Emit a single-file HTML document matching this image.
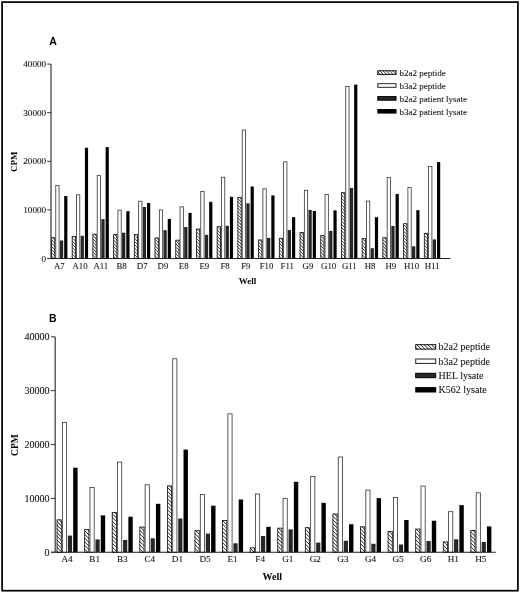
<!DOCTYPE html>
<html><head><meta charset="utf-8"><style>
html,body{margin:0;padding:0;background:#fff;}
body{width:520px;height:593px;overflow:hidden;}
svg{display:block;will-change:transform;}
.t{font-family:"Liberation Serif",serif;fill:#111;stroke:#111;stroke-width:0.08px;}
.b{font-family:"Liberation Serif",serif;font-weight:bold;fill:#000;}
.p{font-family:"Liberation Sans",sans-serif;font-weight:bold;fill:#000;}
</style></head><body>
<svg width="520" height="593" viewBox="0 0 520 593">
<rect x="0" y="0" width="520" height="593" fill="#fff"/>
<rect x="2.1" y="2.1" width="515.8" height="588.6" fill="none" stroke="#000" stroke-width="1.7"/>
<rect x="51.08" y="237.31" width="4.1" height="21.19" fill="#fff"/>
<rect x="55.78" y="185.61" width="3.3" height="72.89" fill="#fff" stroke="#333" stroke-width="0.8"/>
<rect x="59.88" y="240.52" width="3.3" height="17.98" fill="#262626"/>
<rect x="64.18" y="196.1" width="3.2" height="62.4" fill="#000"/>
<rect x="71.79" y="236.19" width="4.1" height="22.31" fill="#fff"/>
<rect x="76.49" y="194.8" width="3.3" height="63.7" fill="#fff" stroke="#333" stroke-width="0.8"/>
<rect x="80.59" y="235.8" width="3.3" height="22.7" fill="#262626"/>
<rect x="84.89" y="147.79" width="3.2" height="110.71" fill="#000"/>
<rect x="92.51" y="233.76" width="4.1" height="24.74" fill="#fff"/>
<rect x="97.21" y="175.6" width="3.3" height="82.9" fill="#fff" stroke="#333" stroke-width="0.8"/>
<rect x="101.31" y="219.13" width="3.3" height="39.37" fill="#262626"/>
<rect x="105.61" y="147.11" width="3.2" height="111.39" fill="#000"/>
<rect x="113.22" y="234.2" width="4.1" height="24.3" fill="#fff"/>
<rect x="117.92" y="210.11" width="3.3" height="48.39" fill="#fff" stroke="#333" stroke-width="0.8"/>
<rect x="122.02" y="232.69" width="3.3" height="25.81" fill="#262626"/>
<rect x="126.32" y="211.12" width="3.2" height="47.38" fill="#000"/>
<rect x="133.93" y="234.2" width="4.1" height="24.3" fill="#fff"/>
<rect x="138.63" y="201.21" width="3.3" height="57.29" fill="#fff" stroke="#333" stroke-width="0.8"/>
<rect x="142.73" y="206.98" width="3.3" height="51.52" fill="#262626"/>
<rect x="147.03" y="203" width="3.2" height="55.5" fill="#000"/>
<rect x="154.64" y="237.6" width="4.1" height="20.9" fill="#fff"/>
<rect x="159.34" y="209.91" width="3.3" height="48.59" fill="#fff" stroke="#333" stroke-width="0.8"/>
<rect x="163.44" y="230.21" width="3.3" height="28.29" fill="#262626"/>
<rect x="167.74" y="218.89" width="3.2" height="39.61" fill="#000"/>
<rect x="175.36" y="239.79" width="4.1" height="18.71" fill="#fff"/>
<rect x="180.06" y="206.8" width="3.3" height="51.7" fill="#fff" stroke="#333" stroke-width="0.8"/>
<rect x="184.16" y="227.1" width="3.3" height="31.4" fill="#262626"/>
<rect x="188.46" y="212.91" width="3.2" height="45.59" fill="#000"/>
<rect x="196.07" y="228.71" width="4.1" height="29.79" fill="#fff"/>
<rect x="200.77" y="191.59" width="3.3" height="66.91" fill="#fff" stroke="#333" stroke-width="0.8"/>
<rect x="204.87" y="234.88" width="3.3" height="23.62" fill="#262626"/>
<rect x="209.17" y="201.88" width="3.2" height="56.62" fill="#000"/>
<rect x="216.78" y="226.33" width="4.1" height="32.17" fill="#fff"/>
<rect x="221.48" y="177.25" width="3.3" height="81.25" fill="#fff" stroke="#333" stroke-width="0.8"/>
<rect x="225.58" y="225.84" width="3.3" height="32.66" fill="#262626"/>
<rect x="229.88" y="196.78" width="3.2" height="61.72" fill="#000"/>
<rect x="237.5" y="197.02" width="4.1" height="61.48" fill="#fff"/>
<rect x="242.2" y="130.01" width="3.3" height="128.49" fill="#fff" stroke="#333" stroke-width="0.8"/>
<rect x="246.3" y="203.29" width="3.3" height="55.21" fill="#262626"/>
<rect x="250.6" y="186.52" width="3.2" height="71.98" fill="#000"/>
<rect x="258.21" y="239.59" width="4.1" height="18.91" fill="#fff"/>
<rect x="262.91" y="188.82" width="3.3" height="69.68" fill="#fff" stroke="#333" stroke-width="0.8"/>
<rect x="267.01" y="237.89" width="3.3" height="20.61" fill="#262626"/>
<rect x="271.31" y="195.42" width="3.2" height="63.08" fill="#000"/>
<rect x="278.92" y="237.89" width="4.1" height="20.61" fill="#fff"/>
<rect x="283.62" y="161.8" width="3.3" height="96.7" fill="#fff" stroke="#333" stroke-width="0.8"/>
<rect x="287.72" y="230.02" width="3.3" height="28.48" fill="#262626"/>
<rect x="292.02" y="217.14" width="3.2" height="41.36" fill="#000"/>
<rect x="299.64" y="232.06" width="4.1" height="26.44" fill="#fff"/>
<rect x="304.34" y="190.28" width="3.3" height="68.22" fill="#fff" stroke="#333" stroke-width="0.8"/>
<rect x="308.44" y="209.9" width="3.3" height="48.6" fill="#262626"/>
<rect x="312.74" y="211.02" width="3.2" height="47.48" fill="#000"/>
<rect x="320.35" y="235.22" width="4.1" height="23.28" fill="#fff"/>
<rect x="325.05" y="194.51" width="3.3" height="63.99" fill="#fff" stroke="#333" stroke-width="0.8"/>
<rect x="329.15" y="230.9" width="3.3" height="27.6" fill="#262626"/>
<rect x="333.45" y="210.39" width="3.2" height="48.11" fill="#000"/>
<rect x="341.06" y="192.31" width="4.1" height="66.19" fill="#fff"/>
<rect x="345.76" y="86.52" width="3.3" height="171.98" fill="#fff" stroke="#333" stroke-width="0.8"/>
<rect x="349.86" y="187.98" width="3.3" height="70.52" fill="#262626"/>
<rect x="354.16" y="84.61" width="3.2" height="173.89" fill="#000"/>
<rect x="361.77" y="238.23" width="4.1" height="20.27" fill="#fff"/>
<rect x="366.47" y="201.11" width="3.3" height="57.39" fill="#fff" stroke="#333" stroke-width="0.8"/>
<rect x="370.57" y="248.2" width="3.3" height="10.3" fill="#262626"/>
<rect x="374.88" y="217.19" width="3.2" height="41.31" fill="#000"/>
<rect x="382.49" y="237.36" width="4.1" height="21.14" fill="#fff"/>
<rect x="387.19" y="177.35" width="3.3" height="81.15" fill="#fff" stroke="#333" stroke-width="0.8"/>
<rect x="391.29" y="225.99" width="3.3" height="32.51" fill="#262626"/>
<rect x="395.59" y="193.91" width="3.2" height="64.59" fill="#000"/>
<rect x="403.2" y="223.31" width="4.1" height="35.19" fill="#fff"/>
<rect x="407.9" y="187.6" width="3.3" height="70.9" fill="#fff" stroke="#333" stroke-width="0.8"/>
<rect x="412" y="246.3" width="3.3" height="12.2" fill="#262626"/>
<rect x="416.3" y="210.19" width="3.2" height="48.31" fill="#000"/>
<rect x="423.91" y="232.89" width="4.1" height="25.61" fill="#fff"/>
<rect x="428.61" y="166.51" width="3.3" height="91.99" fill="#fff" stroke="#333" stroke-width="0.8"/>
<rect x="432.71" y="239.4" width="3.3" height="19.1" fill="#262626"/>
<rect x="437.01" y="162.08" width="3.2" height="96.42" fill="#000"/>
<line x1="51" y1="64.1" x2="51" y2="258.5" stroke="#444" stroke-width="1.3"/>
<line x1="47.2" y1="258.5" x2="450.5" y2="258.5" stroke="#222" stroke-width="1.1"/>
<line x1="47.2" y1="258.5" x2="51" y2="258.5" stroke="#333" stroke-width="1"/>
<text x="46.2" y="261.5" text-anchor="end" class="t" style="font-size:9.2px">0</text>
<line x1="47.2" y1="209.9" x2="51" y2="209.9" stroke="#333" stroke-width="1"/>
<text x="46.2" y="212.9" text-anchor="end" class="t" style="font-size:9.2px">10000</text>
<line x1="47.2" y1="161.3" x2="51" y2="161.3" stroke="#333" stroke-width="1"/>
<text x="46.2" y="164.3" text-anchor="end" class="t" style="font-size:9.2px">20000</text>
<line x1="47.2" y1="112.7" x2="51" y2="112.7" stroke="#333" stroke-width="1"/>
<text x="46.2" y="115.7" text-anchor="end" class="t" style="font-size:9.2px">30000</text>
<line x1="47.2" y1="64.1" x2="51" y2="64.1" stroke="#333" stroke-width="1"/>
<text x="46.2" y="67.1" text-anchor="end" class="t" style="font-size:9.2px">40000</text>
<text x="59.38" y="269.1" text-anchor="middle" class="t" style="font-size:8.8px">A7</text>
<text x="80.09" y="269.1" text-anchor="middle" class="t" style="font-size:8.8px">A10</text>
<text x="100.81" y="269.1" text-anchor="middle" class="t" style="font-size:8.8px">A11</text>
<text x="121.52" y="269.1" text-anchor="middle" class="t" style="font-size:8.8px">B8</text>
<text x="142.23" y="269.1" text-anchor="middle" class="t" style="font-size:8.8px">D7</text>
<text x="162.94" y="269.1" text-anchor="middle" class="t" style="font-size:8.8px">D9</text>
<text x="183.66" y="269.1" text-anchor="middle" class="t" style="font-size:8.8px">E8</text>
<text x="204.37" y="269.1" text-anchor="middle" class="t" style="font-size:8.8px">E9</text>
<text x="225.08" y="269.1" text-anchor="middle" class="t" style="font-size:8.8px">F8</text>
<text x="245.8" y="269.1" text-anchor="middle" class="t" style="font-size:8.8px">F9</text>
<text x="266.51" y="269.1" text-anchor="middle" class="t" style="font-size:8.8px">F10</text>
<text x="287.22" y="269.1" text-anchor="middle" class="t" style="font-size:8.8px">F11</text>
<text x="307.94" y="269.1" text-anchor="middle" class="t" style="font-size:8.8px">G9</text>
<text x="328.65" y="269.1" text-anchor="middle" class="t" style="font-size:8.8px">G10</text>
<text x="349.36" y="269.1" text-anchor="middle" class="t" style="font-size:8.8px">G11</text>
<text x="370.07" y="269.1" text-anchor="middle" class="t" style="font-size:8.8px">H8</text>
<text x="390.79" y="269.1" text-anchor="middle" class="t" style="font-size:8.8px">H9</text>
<text x="411.5" y="269.1" text-anchor="middle" class="t" style="font-size:8.8px">H10</text>
<text x="432.21" y="269.1" text-anchor="middle" class="t" style="font-size:8.8px">H11</text>
<text x="247.6" y="283.6" text-anchor="middle" class="b" style="font-size:9px">Well</text>
<text transform="translate(16.6 161.8) rotate(-90)" text-anchor="middle" class="b" style="font-size:9px">CPM</text>
<text x="49.2" y="45.3" class="p" style="font-size:10.5px">A</text>
<rect x="377.3" y="70.3" width="19.2" height="4.6" fill="#fff"/>
<text x="399.6" y="75.9" class="t" style="font-size:9px">b2a2 peptide</text>
<rect x="377.8" y="83.7" width="18.2" height="3.6" fill="#fff" stroke="#222" stroke-width="1"/>
<text x="399.6" y="88.8" class="t" style="font-size:9px">b3a2 peptide</text>
<rect x="377.8" y="96.6" width="18.2" height="3.6" fill="#2a2a2a" stroke="#000" stroke-width="1"/>
<text x="399.6" y="101.7" class="t" style="font-size:9px">b2a2 patient lysate</text>
<rect x="377.3" y="109" width="19.2" height="4.6" fill="#000"/>
<text x="399.6" y="114.6" class="t" style="font-size:9px">b3a2 patient lysate</text>
<clipPath id="chA"><rect x="51.08" y="237.31" width="4.1" height="21.19"/><rect x="71.79" y="236.19" width="4.1" height="22.31"/><rect x="92.51" y="233.76" width="4.1" height="24.74"/><rect x="113.22" y="234.2" width="4.1" height="24.3"/><rect x="133.93" y="234.2" width="4.1" height="24.3"/><rect x="154.64" y="237.6" width="4.1" height="20.9"/><rect x="175.36" y="239.79" width="4.1" height="18.71"/><rect x="196.07" y="228.71" width="4.1" height="29.79"/><rect x="216.78" y="226.33" width="4.1" height="32.17"/><rect x="237.5" y="197.02" width="4.1" height="61.48"/><rect x="258.21" y="239.59" width="4.1" height="18.91"/><rect x="278.92" y="237.89" width="4.1" height="20.61"/><rect x="299.64" y="232.06" width="4.1" height="26.44"/><rect x="320.35" y="235.22" width="4.1" height="23.28"/><rect x="341.06" y="192.31" width="4.1" height="66.19"/><rect x="361.77" y="238.23" width="4.1" height="20.27"/><rect x="382.49" y="237.36" width="4.1" height="21.14"/><rect x="403.2" y="223.31" width="4.1" height="35.19"/><rect x="423.91" y="232.89" width="4.1" height="25.61"/><rect x="377.3" y="70.3" width="19.2" height="4.6"/></clipPath>
<g clip-path="url(#chA)"><path d="M50.08 -310.88L429.01 68.05M50.08 -307.63L429.01 71.3M50.08 -304.38L429.01 74.55M50.08 -301.13L429.01 77.8M50.08 -297.88L429.01 81.05M50.08 -294.63L429.01 84.3M50.08 -291.38L429.01 87.55M50.08 -288.13L429.01 90.8M50.08 -284.88L429.01 94.05M50.08 -281.63L429.01 97.3M50.08 -278.38L429.01 100.55M50.08 -275.13L429.01 103.8M50.08 -271.88L429.01 107.05M50.08 -268.63L429.01 110.3M50.08 -265.38L429.01 113.55M50.08 -262.13L429.01 116.8M50.08 -258.88L429.01 120.05M50.08 -255.63L429.01 123.3M50.08 -252.38L429.01 126.55M50.08 -249.13L429.01 129.8M50.08 -245.88L429.01 133.05M50.08 -242.63L429.01 136.3M50.08 -239.38L429.01 139.55M50.08 -236.13L429.01 142.8M50.08 -232.88L429.01 146.05M50.08 -229.63L429.01 149.3M50.08 -226.38L429.01 152.55M50.08 -223.13L429.01 155.8M50.08 -219.88L429.01 159.05M50.08 -216.63L429.01 162.3M50.08 -213.38L429.01 165.55M50.08 -210.13L429.01 168.8M50.08 -206.88L429.01 172.05M50.08 -203.63L429.01 175.3M50.08 -200.38L429.01 178.55M50.08 -197.13L429.01 181.8M50.08 -193.88L429.01 185.05M50.08 -190.63L429.01 188.3M50.08 -187.38L429.01 191.55M50.08 -184.13L429.01 194.8M50.08 -180.88L429.01 198.05M50.08 -177.63L429.01 201.3M50.08 -174.38L429.01 204.55M50.08 -171.13L429.01 207.8M50.08 -167.88L429.01 211.05M50.08 -164.63L429.01 214.3M50.08 -161.38L429.01 217.55M50.08 -158.13L429.01 220.8M50.08 -154.88L429.01 224.05M50.08 -151.63L429.01 227.3M50.08 -148.38L429.01 230.55M50.08 -145.13L429.01 233.8M50.08 -141.88L429.01 237.05M50.08 -138.63L429.01 240.3M50.08 -135.38L429.01 243.55M50.08 -132.13L429.01 246.8M50.08 -128.88L429.01 250.05M50.08 -125.63L429.01 253.3M50.08 -122.38L429.01 256.55M50.08 -119.13L429.01 259.8M50.08 -115.88L429.01 263.05M50.08 -112.63L429.01 266.3M50.08 -109.38L429.01 269.55M50.08 -106.13L429.01 272.8M50.08 -102.88L429.01 276.05M50.08 -99.63L429.01 279.3M50.08 -96.38L429.01 282.55M50.08 -93.13L429.01 285.8M50.08 -89.88L429.01 289.05M50.08 -86.63L429.01 292.3M50.08 -83.38L429.01 295.55M50.08 -80.13L429.01 298.8M50.08 -76.88L429.01 302.05M50.08 -73.63L429.01 305.3M50.08 -70.38L429.01 308.55M50.08 -67.13L429.01 311.8M50.08 -63.88L429.01 315.05M50.08 -60.63L429.01 318.3M50.08 -57.38L429.01 321.55M50.08 -54.13L429.01 324.8M50.08 -50.88L429.01 328.05M50.08 -47.63L429.01 331.3M50.08 -44.38L429.01 334.55M50.08 -41.13L429.01 337.8M50.08 -37.88L429.01 341.05M50.08 -34.63L429.01 344.3M50.08 -31.38L429.01 347.55M50.08 -28.13L429.01 350.8M50.08 -24.88L429.01 354.05M50.08 -21.63L429.01 357.3M50.08 -18.38L429.01 360.55M50.08 -15.13L429.01 363.8M50.08 -11.88L429.01 367.05M50.08 -8.63L429.01 370.3M50.08 -5.38L429.01 373.55M50.08 -2.13L429.01 376.8M50.08 1.12L429.01 380.05M50.08 4.37L429.01 383.3M50.08 7.62L429.01 386.55M50.08 10.87L429.01 389.8M50.08 14.12L429.01 393.05M50.08 17.37L429.01 396.3M50.08 20.62L429.01 399.55M50.08 23.87L429.01 402.8M50.08 27.12L429.01 406.05M50.08 30.37L429.01 409.3M50.08 33.62L429.01 412.55M50.08 36.87L429.01 415.8M50.08 40.12L429.01 419.05M50.08 43.37L429.01 422.3M50.08 46.62L429.01 425.55M50.08 49.87L429.01 428.8M50.08 53.12L429.01 432.05M50.08 56.37L429.01 435.3M50.08 59.62L429.01 438.55M50.08 62.87L429.01 441.8M50.08 66.12L429.01 445.05M50.08 69.37L429.01 448.3M50.08 72.62L429.01 451.55M50.08 75.87L429.01 454.8M50.08 79.12L429.01 458.05M50.08 82.37L429.01 461.3M50.08 85.62L429.01 464.55M50.08 88.87L429.01 467.8M50.08 92.12L429.01 471.05M50.08 95.37L429.01 474.3M50.08 98.62L429.01 477.55M50.08 101.87L429.01 480.8M50.08 105.12L429.01 484.05M50.08 108.37L429.01 487.3M50.08 111.62L429.01 490.55M50.08 114.87L429.01 493.8M50.08 118.12L429.01 497.05M50.08 121.37L429.01 500.3M50.08 124.62L429.01 503.55M50.08 127.87L429.01 506.8M50.08 131.12L429.01 510.05M50.08 134.37L429.01 513.3M50.08 137.62L429.01 516.55M50.08 140.87L429.01 519.8M50.08 144.12L429.01 523.05M50.08 147.37L429.01 526.3M50.08 150.62L429.01 529.55M50.08 153.87L429.01 532.8M50.08 157.12L429.01 536.05M50.08 160.37L429.01 539.3M50.08 163.62L429.01 542.55M50.08 166.87L429.01 545.8M50.08 170.12L429.01 549.05M50.08 173.37L429.01 552.3M50.08 176.62L429.01 555.55M50.08 179.87L429.01 558.8M50.08 183.12L429.01 562.05M50.08 186.37L429.01 565.3M50.08 189.62L429.01 568.55M50.08 192.87L429.01 571.8M50.08 196.12L429.01 575.05M50.08 199.37L429.01 578.3M50.08 202.62L429.01 581.55M50.08 205.87L429.01 584.8M50.08 209.12L429.01 588.05M50.08 212.37L429.01 591.3M50.08 215.62L429.01 594.55M50.08 218.87L429.01 597.8M50.08 222.12L429.01 601.05M50.08 225.37L429.01 604.3M50.08 228.62L429.01 607.55M50.08 231.87L429.01 610.8M50.08 235.12L429.01 614.05M50.08 238.37L429.01 617.3M50.08 241.62L429.01 620.55M50.08 244.87L429.01 623.8M50.08 248.12L429.01 627.05M50.08 251.37L429.01 630.3M50.08 254.62L429.01 633.55M50.08 257.87L429.01 636.8" stroke="#222" stroke-width="0.9" fill="none"/></g>
<rect x="51.48" y="237.71" width="3.3" height="20.79" fill="none" stroke="#111" stroke-width="0.8"/>
<rect x="72.19" y="236.59" width="3.3" height="21.91" fill="none" stroke="#111" stroke-width="0.8"/>
<rect x="92.91" y="234.16" width="3.3" height="24.34" fill="none" stroke="#111" stroke-width="0.8"/>
<rect x="113.62" y="234.6" width="3.3" height="23.9" fill="none" stroke="#111" stroke-width="0.8"/>
<rect x="134.33" y="234.6" width="3.3" height="23.9" fill="none" stroke="#111" stroke-width="0.8"/>
<rect x="155.04" y="238" width="3.3" height="20.5" fill="none" stroke="#111" stroke-width="0.8"/>
<rect x="175.76" y="240.19" width="3.3" height="18.31" fill="none" stroke="#111" stroke-width="0.8"/>
<rect x="196.47" y="229.11" width="3.3" height="29.39" fill="none" stroke="#111" stroke-width="0.8"/>
<rect x="217.18" y="226.73" width="3.3" height="31.77" fill="none" stroke="#111" stroke-width="0.8"/>
<rect x="237.9" y="197.42" width="3.3" height="61.08" fill="none" stroke="#111" stroke-width="0.8"/>
<rect x="258.61" y="239.99" width="3.3" height="18.51" fill="none" stroke="#111" stroke-width="0.8"/>
<rect x="279.32" y="238.29" width="3.3" height="20.21" fill="none" stroke="#111" stroke-width="0.8"/>
<rect x="300.04" y="232.46" width="3.3" height="26.04" fill="none" stroke="#111" stroke-width="0.8"/>
<rect x="320.75" y="235.62" width="3.3" height="22.88" fill="none" stroke="#111" stroke-width="0.8"/>
<rect x="341.46" y="192.71" width="3.3" height="65.79" fill="none" stroke="#111" stroke-width="0.8"/>
<rect x="362.17" y="238.63" width="3.3" height="19.87" fill="none" stroke="#111" stroke-width="0.8"/>
<rect x="382.89" y="237.76" width="3.3" height="20.74" fill="none" stroke="#111" stroke-width="0.8"/>
<rect x="403.6" y="223.71" width="3.3" height="34.79" fill="none" stroke="#111" stroke-width="0.8"/>
<rect x="424.31" y="233.29" width="3.3" height="25.21" fill="none" stroke="#111" stroke-width="0.8"/>
<rect x="377.8" y="70.8" width="18.2" height="3.6" fill="none" stroke="#111" stroke-width="1"/>
<rect x="56.68" y="519.44" width="5" height="32.86" fill="#fff"/>
<rect x="62.38" y="422.59" width="4.2" height="129.71" fill="#fff" stroke="#333" stroke-width="0.8"/>
<rect x="67.88" y="535.6" width="4.2" height="16.7" fill="#262626"/>
<rect x="73.18" y="467.72" width="4.4" height="84.58" fill="#000"/>
<rect x="84.27" y="529.13" width="5" height="23.17" fill="#fff"/>
<rect x="89.97" y="487.51" width="4.2" height="64.79" fill="#fff" stroke="#333" stroke-width="0.8"/>
<rect x="95.47" y="539.42" width="4.2" height="12.88" fill="#262626"/>
<rect x="100.77" y="515.4" width="4.4" height="36.9" fill="#000"/>
<rect x="111.85" y="512.11" width="5" height="40.19" fill="#fff"/>
<rect x="117.55" y="462.14" width="4.2" height="90.16" fill="#fff" stroke="#333" stroke-width="0.8"/>
<rect x="123.05" y="539.91" width="4.2" height="12.39" fill="#262626"/>
<rect x="128.35" y="516.74" width="4.4" height="35.56" fill="#000"/>
<rect x="139.44" y="526.71" width="5" height="25.59" fill="#fff"/>
<rect x="145.14" y="484.82" width="4.2" height="67.48" fill="#fff" stroke="#333" stroke-width="0.8"/>
<rect x="150.63" y="538.29" width="4.2" height="14.01" fill="#262626"/>
<rect x="155.94" y="503.81" width="4.4" height="48.49" fill="#000"/>
<rect x="167.02" y="485.55" width="5" height="66.75" fill="#fff"/>
<rect x="172.72" y="358.75" width="4.2" height="193.55" fill="#fff" stroke="#333" stroke-width="0.8"/>
<rect x="178.22" y="518.52" width="4.2" height="33.78" fill="#262626"/>
<rect x="183.52" y="449.56" width="4.4" height="102.74" fill="#000"/>
<rect x="194.61" y="530.21" width="5" height="22.09" fill="#fff"/>
<rect x="200.31" y="494.51" width="4.2" height="57.79" fill="#fff" stroke="#333" stroke-width="0.8"/>
<rect x="205.81" y="533.61" width="4.2" height="18.69" fill="#262626"/>
<rect x="211.11" y="505.7" width="4.4" height="46.6" fill="#000"/>
<rect x="222.19" y="520.14" width="5" height="32.16" fill="#fff"/>
<rect x="227.89" y="413.86" width="4.2" height="138.44" fill="#fff" stroke="#333" stroke-width="0.8"/>
<rect x="233.39" y="543.3" width="4.2" height="9" fill="#262626"/>
<rect x="238.69" y="499.5" width="4.4" height="52.8" fill="#000"/>
<rect x="249.78" y="547.45" width="5" height="4.85" fill="#fff"/>
<rect x="255.48" y="494.03" width="4.2" height="58.27" fill="#fff" stroke="#333" stroke-width="0.8"/>
<rect x="260.98" y="535.98" width="4.2" height="16.32" fill="#262626"/>
<rect x="266.27" y="526.82" width="4.4" height="25.48" fill="#000"/>
<rect x="277.36" y="527.79" width="5" height="24.51" fill="#fff"/>
<rect x="283.06" y="498.5" width="4.2" height="53.8" fill="#fff" stroke="#333" stroke-width="0.8"/>
<rect x="288.56" y="529.4" width="4.2" height="22.9" fill="#262626"/>
<rect x="293.86" y="481.83" width="4.4" height="70.47" fill="#000"/>
<rect x="304.94" y="527.3" width="5" height="25" fill="#fff"/>
<rect x="310.64" y="476.52" width="4.2" height="75.78" fill="#fff" stroke="#333" stroke-width="0.8"/>
<rect x="316.14" y="542.6" width="4.2" height="9.7" fill="#262626"/>
<rect x="321.44" y="502.84" width="4.4" height="49.46" fill="#000"/>
<rect x="332.53" y="513.62" width="5" height="38.68" fill="#fff"/>
<rect x="338.23" y="457.02" width="4.2" height="95.28" fill="#fff" stroke="#333" stroke-width="0.8"/>
<rect x="343.73" y="540.82" width="4.2" height="11.48" fill="#262626"/>
<rect x="349.03" y="524.23" width="4.4" height="28.07" fill="#000"/>
<rect x="360.12" y="526.44" width="5" height="25.86" fill="#fff"/>
<rect x="365.81" y="490.04" width="4.2" height="62.26" fill="#fff" stroke="#333" stroke-width="0.8"/>
<rect x="371.31" y="543.79" width="4.2" height="8.51" fill="#262626"/>
<rect x="376.62" y="498.1" width="4.4" height="54.2" fill="#000"/>
<rect x="387.7" y="531.13" width="5" height="21.17" fill="#fff"/>
<rect x="393.4" y="497.53" width="4.2" height="54.77" fill="#fff" stroke="#333" stroke-width="0.8"/>
<rect x="398.9" y="544.49" width="4.2" height="7.81" fill="#262626"/>
<rect x="404.2" y="520.03" width="4.4" height="32.27" fill="#000"/>
<rect x="415.29" y="528.7" width="5" height="23.6" fill="#fff"/>
<rect x="420.99" y="486.06" width="4.2" height="66.24" fill="#fff" stroke="#333" stroke-width="0.8"/>
<rect x="426.49" y="540.99" width="4.2" height="11.31" fill="#262626"/>
<rect x="431.79" y="520.73" width="4.4" height="31.57" fill="#000"/>
<rect x="442.87" y="541.52" width="5" height="10.78" fill="#fff"/>
<rect x="448.57" y="511.7" width="4.2" height="40.6" fill="#fff" stroke="#333" stroke-width="0.8"/>
<rect x="454.07" y="539.32" width="4.2" height="12.98" fill="#262626"/>
<rect x="459.37" y="505.11" width="4.4" height="47.19" fill="#000"/>
<rect x="470.46" y="530.1" width="5" height="22.2" fill="#fff"/>
<rect x="476.16" y="492.84" width="4.2" height="59.46" fill="#fff" stroke="#333" stroke-width="0.8"/>
<rect x="481.66" y="541.9" width="4.2" height="10.4" fill="#262626"/>
<rect x="486.96" y="526.44" width="4.4" height="25.86" fill="#000"/>
<line x1="55.2" y1="336.8" x2="55.2" y2="552.3" stroke="#444" stroke-width="1.3"/>
<line x1="51" y1="552.3" x2="495.8" y2="552.3" stroke="#222" stroke-width="1.1"/>
<line x1="51" y1="552.3" x2="55.2" y2="552.3" stroke="#333" stroke-width="1"/>
<text x="49.6" y="555.5" text-anchor="end" class="t" style="font-size:10px">0</text>
<line x1="51" y1="498.42" x2="55.2" y2="498.42" stroke="#333" stroke-width="1"/>
<text x="49.6" y="501.62" text-anchor="end" class="t" style="font-size:10px">10000</text>
<line x1="51" y1="444.55" x2="55.2" y2="444.55" stroke="#333" stroke-width="1"/>
<text x="49.6" y="447.75" text-anchor="end" class="t" style="font-size:10px">20000</text>
<line x1="51" y1="390.67" x2="55.2" y2="390.67" stroke="#333" stroke-width="1"/>
<text x="49.6" y="393.87" text-anchor="end" class="t" style="font-size:10px">30000</text>
<line x1="51" y1="336.8" x2="55.2" y2="336.8" stroke="#333" stroke-width="1"/>
<text x="49.6" y="340" text-anchor="end" class="t" style="font-size:10px">40000</text>
<text x="67.08" y="562.3" text-anchor="middle" class="t" style="font-size:9.2px">A4</text>
<text x="94.67" y="562.3" text-anchor="middle" class="t" style="font-size:9.2px">B1</text>
<text x="122.25" y="562.3" text-anchor="middle" class="t" style="font-size:9.2px">B3</text>
<text x="149.84" y="562.3" text-anchor="middle" class="t" style="font-size:9.2px">C4</text>
<text x="177.42" y="562.3" text-anchor="middle" class="t" style="font-size:9.2px">D1</text>
<text x="205.01" y="562.3" text-anchor="middle" class="t" style="font-size:9.2px">D5</text>
<text x="232.59" y="562.3" text-anchor="middle" class="t" style="font-size:9.2px">E1</text>
<text x="260.18" y="562.3" text-anchor="middle" class="t" style="font-size:9.2px">F4</text>
<text x="287.76" y="562.3" text-anchor="middle" class="t" style="font-size:9.2px">G1</text>
<text x="315.34" y="562.3" text-anchor="middle" class="t" style="font-size:9.2px">G2</text>
<text x="342.93" y="562.3" text-anchor="middle" class="t" style="font-size:9.2px">G3</text>
<text x="370.51" y="562.3" text-anchor="middle" class="t" style="font-size:9.2px">G4</text>
<text x="398.1" y="562.3" text-anchor="middle" class="t" style="font-size:9.2px">G5</text>
<text x="425.69" y="562.3" text-anchor="middle" class="t" style="font-size:9.2px">G6</text>
<text x="453.27" y="562.3" text-anchor="middle" class="t" style="font-size:9.2px">H1</text>
<text x="480.86" y="562.3" text-anchor="middle" class="t" style="font-size:9.2px">H5</text>
<text x="272.3" y="579.5" text-anchor="middle" class="b" style="font-size:10px">Well</text>
<text transform="translate(18.1 445) rotate(-90)" text-anchor="middle" class="b" style="font-size:9.6px">CPM</text>
<text x="48.9" y="322.2" class="p" style="font-size:10.5px">B</text>
<rect x="415.2" y="344.2" width="21" height="5.4" fill="#fff"/>
<text x="438.6" y="350.4" class="t" style="font-size:10px">b2a2 peptide</text>
<rect x="415.7" y="359" width="20" height="4.4" fill="#fff" stroke="#222" stroke-width="1"/>
<text x="438.6" y="364.7" class="t" style="font-size:10px">b3a2 peptide</text>
<rect x="415.7" y="373.3" width="20" height="4.4" fill="#2a2a2a" stroke="#000" stroke-width="1"/>
<text x="438.6" y="379" class="t" style="font-size:10px">HEL lysate</text>
<rect x="415.2" y="387.1" width="21" height="5.4" fill="#000"/>
<text x="438.6" y="393.3" class="t" style="font-size:10px">K562 lysate</text>
<clipPath id="chB"><rect x="56.68" y="519.44" width="5" height="32.86"/><rect x="84.27" y="529.13" width="5" height="23.17"/><rect x="111.85" y="512.11" width="5" height="40.19"/><rect x="139.44" y="526.71" width="5" height="25.59"/><rect x="167.02" y="485.55" width="5" height="66.75"/><rect x="194.61" y="530.21" width="5" height="22.09"/><rect x="222.19" y="520.14" width="5" height="32.16"/><rect x="249.78" y="547.45" width="5" height="4.85"/><rect x="277.36" y="527.79" width="5" height="24.51"/><rect x="304.94" y="527.3" width="5" height="25"/><rect x="332.53" y="513.62" width="5" height="38.68"/><rect x="360.12" y="526.44" width="5" height="25.86"/><rect x="387.7" y="531.13" width="5" height="21.17"/><rect x="415.29" y="528.7" width="5" height="23.6"/><rect x="442.87" y="541.52" width="5" height="10.78"/><rect x="470.46" y="530.1" width="5" height="22.2"/><rect x="415.2" y="344.2" width="21" height="5.4"/></clipPath>
<g clip-path="url(#chB)"><path d="M55.68 -79.28L476.46 341.5M55.68 -75.58L476.46 345.2M55.68 -71.88L476.46 348.9M55.68 -68.18L476.46 352.6M55.68 -64.48L476.46 356.3M55.68 -60.78L476.46 360M55.68 -57.08L476.46 363.7M55.68 -53.38L476.46 367.4M55.68 -49.68L476.46 371.1M55.68 -45.98L476.46 374.8M55.68 -42.28L476.46 378.5M55.68 -38.58L476.46 382.2M55.68 -34.88L476.46 385.9M55.68 -31.18L476.46 389.6M55.68 -27.48L476.46 393.3M55.68 -23.78L476.46 397M55.68 -20.08L476.46 400.7M55.68 -16.38L476.46 404.4M55.68 -12.68L476.46 408.1M55.68 -8.98L476.46 411.8M55.68 -5.27L476.46 415.5M55.68 -1.57L476.46 419.2M55.68 2.13L476.46 422.9M55.68 5.83L476.46 426.6M55.68 9.53L476.46 430.3M55.68 13.23L476.46 434M55.68 16.93L476.46 437.7M55.68 20.63L476.46 441.4M55.68 24.33L476.46 445.1M55.68 28.03L476.46 448.8M55.68 31.73L476.46 452.5M55.68 35.43L476.46 456.2M55.68 39.13L476.46 459.9M55.68 42.83L476.46 463.6M55.68 46.53L476.46 467.3M55.68 50.23L476.46 471M55.68 53.93L476.46 474.7M55.68 57.63L476.46 478.4M55.68 61.33L476.46 482.1M55.68 65.03L476.46 485.8M55.68 68.73L476.46 489.5M55.68 72.43L476.46 493.2M55.68 76.13L476.46 496.9M55.68 79.83L476.46 500.6M55.68 83.53L476.46 504.3M55.68 87.23L476.46 508M55.68 90.93L476.46 511.7M55.68 94.63L476.46 515.4M55.68 98.33L476.46 519.1M55.68 102.03L476.46 522.8M55.68 105.73L476.46 526.5M55.68 109.43L476.46 530.2M55.68 113.13L476.46 533.9M55.68 116.83L476.46 537.6M55.68 120.53L476.46 541.3M55.68 124.23L476.46 545M55.68 127.93L476.46 548.7M55.68 131.63L476.46 552.4M55.68 135.33L476.46 556.1M55.68 139.03L476.46 559.8M55.68 142.73L476.46 563.5M55.68 146.43L476.46 567.2M55.68 150.13L476.46 570.9M55.68 153.83L476.46 574.6M55.68 157.53L476.46 578.3M55.68 161.23L476.46 582M55.68 164.93L476.46 585.7M55.68 168.63L476.46 589.4M55.68 172.33L476.46 593.1M55.68 176.03L476.46 596.8M55.68 179.73L476.46 600.5M55.68 183.43L476.46 604.2M55.68 187.13L476.46 607.9M55.68 190.83L476.46 611.6M55.68 194.53L476.46 615.3M55.68 198.23L476.46 619M55.68 201.93L476.46 622.7M55.68 205.63L476.46 626.4M55.68 209.33L476.46 630.1M55.68 213.03L476.46 633.8M55.68 216.72L476.46 637.5M55.68 220.42L476.46 641.2M55.68 224.12L476.46 644.9M55.68 227.82L476.46 648.6M55.68 231.52L476.46 652.3M55.68 235.22L476.46 656M55.68 238.92L476.46 659.7M55.68 242.62L476.46 663.4M55.68 246.32L476.46 667.1M55.68 250.02L476.46 670.8M55.68 253.72L476.46 674.5M55.68 257.42L476.46 678.2M55.68 261.12L476.46 681.9M55.68 264.82L476.46 685.6M55.68 268.52L476.46 689.3M55.68 272.22L476.46 693M55.68 275.92L476.46 696.7M55.68 279.62L476.46 700.4M55.68 283.32L476.46 704.1M55.68 287.02L476.46 707.8M55.68 290.72L476.46 711.5M55.68 294.42L476.46 715.2M55.68 298.12L476.46 718.9M55.68 301.82L476.46 722.6M55.68 305.52L476.46 726.3M55.68 309.22L476.46 730M55.68 312.92L476.46 733.7M55.68 316.62L476.46 737.4M55.68 320.32L476.46 741.1M55.68 324.02L476.46 744.8M55.68 327.72L476.46 748.5M55.68 331.42L476.46 752.2M55.68 335.12L476.46 755.9M55.68 338.82L476.46 759.6M55.68 342.52L476.46 763.3M55.68 346.22L476.46 767M55.68 349.92L476.46 770.7M55.68 353.62L476.46 774.4M55.68 357.32L476.46 778.1M55.68 361.02L476.46 781.8M55.68 364.72L476.46 785.5M55.68 368.42L476.46 789.2M55.68 372.12L476.46 792.9M55.68 375.82L476.46 796.6M55.68 379.52L476.46 800.3M55.68 383.22L476.46 804M55.68 386.92L476.46 807.7M55.68 390.62L476.46 811.4M55.68 394.32L476.46 815.1M55.68 398.02L476.46 818.8M55.68 401.72L476.46 822.5M55.68 405.42L476.46 826.2M55.68 409.12L476.46 829.9M55.68 412.82L476.46 833.6M55.68 416.52L476.46 837.3M55.68 420.22L476.46 841M55.68 423.92L476.46 844.7M55.68 427.62L476.46 848.4M55.68 431.32L476.46 852.1M55.68 435.02L476.46 855.8M55.68 438.72L476.46 859.5M55.68 442.42L476.46 863.2M55.68 446.12L476.46 866.9M55.68 449.82L476.46 870.6M55.68 453.52L476.46 874.3M55.68 457.22L476.46 878M55.68 460.92L476.46 881.7M55.68 464.62L476.46 885.4M55.68 468.32L476.46 889.1M55.68 472.02L476.46 892.8M55.68 475.72L476.46 896.5M55.68 479.42L476.46 900.2M55.68 483.12L476.46 903.9M55.68 486.82L476.46 907.6M55.68 490.52L476.46 911.3M55.68 494.22L476.46 915M55.68 497.92L476.46 918.7M55.68 501.62L476.46 922.4M55.68 505.32L476.46 926.1M55.68 509.02L476.46 929.8M55.68 512.72L476.46 933.5M55.68 516.42L476.46 937.2M55.68 520.12L476.46 940.9M55.68 523.82L476.46 944.6M55.68 527.52L476.46 948.3M55.68 531.22L476.46 952M55.68 534.92L476.46 955.7M55.68 538.62L476.46 959.4M55.68 542.32L476.46 963.1M55.68 546.02L476.46 966.8M55.68 549.72L476.46 970.5M55.68 553.42L476.46 974.2" stroke="#222" stroke-width="1" fill="none"/></g>
<rect x="57.08" y="519.84" width="4.2" height="32.46" fill="none" stroke="#111" stroke-width="0.8"/>
<rect x="84.67" y="529.53" width="4.2" height="22.77" fill="none" stroke="#111" stroke-width="0.8"/>
<rect x="112.25" y="512.51" width="4.2" height="39.79" fill="none" stroke="#111" stroke-width="0.8"/>
<rect x="139.84" y="527.11" width="4.2" height="25.19" fill="none" stroke="#111" stroke-width="0.8"/>
<rect x="167.42" y="485.95" width="4.2" height="66.35" fill="none" stroke="#111" stroke-width="0.8"/>
<rect x="195.01" y="530.61" width="4.2" height="21.69" fill="none" stroke="#111" stroke-width="0.8"/>
<rect x="222.59" y="520.54" width="4.2" height="31.76" fill="none" stroke="#111" stroke-width="0.8"/>
<rect x="250.18" y="547.85" width="4.2" height="4.45" fill="none" stroke="#111" stroke-width="0.8"/>
<rect x="277.76" y="528.19" width="4.2" height="24.11" fill="none" stroke="#111" stroke-width="0.8"/>
<rect x="305.34" y="527.7" width="4.2" height="24.6" fill="none" stroke="#111" stroke-width="0.8"/>
<rect x="332.93" y="514.02" width="4.2" height="38.28" fill="none" stroke="#111" stroke-width="0.8"/>
<rect x="360.51" y="526.84" width="4.2" height="25.46" fill="none" stroke="#111" stroke-width="0.8"/>
<rect x="388.1" y="531.53" width="4.2" height="20.77" fill="none" stroke="#111" stroke-width="0.8"/>
<rect x="415.69" y="529.1" width="4.2" height="23.2" fill="none" stroke="#111" stroke-width="0.8"/>
<rect x="443.27" y="541.92" width="4.2" height="10.38" fill="none" stroke="#111" stroke-width="0.8"/>
<rect x="470.86" y="530.5" width="4.2" height="21.8" fill="none" stroke="#111" stroke-width="0.8"/>
<rect x="415.7" y="344.7" width="20" height="4.4" fill="none" stroke="#111" stroke-width="1"/>
</svg>
</body></html>
